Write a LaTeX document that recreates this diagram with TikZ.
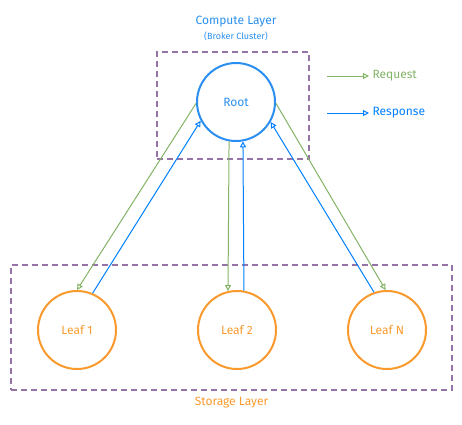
\documentclass[tikz,border=0pt]{standalone}
\usepackage{fontspec}
\setmainfont{Fira Sans}
\usepackage{tikz}
\usetikzlibrary{arrows.meta,positioning}

\definecolor{reqgreen}{HTML}{82B366}
\definecolor{resblue}{HTML}{007FFF}
\definecolor{rootblue}{HTML}{2A8FF0}
\definecolor{leaforange}{HTML}{FA9A2E}
\definecolor{layerpurple}{HTML}{9673A6}

\begin{document}
\begin{tikzpicture}[
    x=1pt, y=-1pt,
    font=\fontsize{12}{14}\selectfont,
    layerbox/.style={draw=layerpurple, line width=1.6pt, dash pattern=on 6pt off 4pt, inner sep=0pt},
    rootnode/.style={circle, draw=rootblue, line width=2pt, minimum size=78pt, inner sep=0pt, text=rootblue},
    leafnode/.style={circle, draw=leaforange, line width=2pt, minimum size=78pt, inner sep=0pt, text=leaforange},
    req/.style={-{Triangle[open,length=6pt,width=6pt]}, reqgreen, line width=1pt},
    res/.style={-{Triangle[open,length=6pt,width=6pt]}, resblue, line width=1pt}
  ]
    \useasboundingbox (0,0) rectangle (462,424);
    % layers
    \node[layerbox, minimum width=152pt, minimum height=107pt] (compute) at (233,105.5) {};
    \node[layerbox, minimum width=441pt, minimum height=125pt] (storage) at (231.5,327.5) {};
    \node[text=rootblue] (computelbl) at (236,22) {Compute Layer};
    \node[text=rootblue, font=\fontsize{9}{11}\selectfont, below=-3pt of computelbl] (brokerlbl) {(Broker Cluster)};
    \node[text=leaforange, below=3pt of storage] (storagelbl) {Storage Layer};
    % nodes
    \node[rootnode] (root) at (236,102) {Root};
    \node[leafnode] (leaf1) at (77,330) {Leaf 1};
    \node[leafnode] (leaf2) at (237,330) {Leaf 2};
    \node[leafnode] (leafn) at (387,330) {Leaf N};
    % request / response
    \draw[req] (root.182) -- (leaf1.90);
    \draw[res] (leaf1.67) -- (root.208);
    \draw[req] (root.260) -- (leaf2.103);
    \draw[res] (leaf2.80) -- (root.280);
    \draw[req] (root.358) -- (leafn.92);
    \draw[res] (leafn.109) -- (root.330);
    % legend
    \coordinate (reqa) at (327,76);
    \coordinate (resa) at (327,113);
    \node[text=reqgreen, anchor=west] (reqlbl) at (369,76) {Request};
    \node[text=resblue, anchor=west] (reslbl) at (369,113) {Response};
    \draw[req] (reqa) -- (reqlbl);
    \draw[res] (resa) -- (reslbl);
  \end{tikzpicture}
\end{document}
